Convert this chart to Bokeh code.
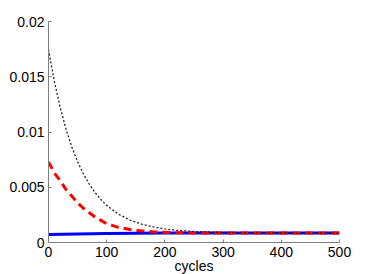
from bokeh.plotting import figure
from bokeh.models import Range1d, FixedTicker
from bokeh.embed import file_html
from bokeh.resources import INLINE

# data
cycles = [0, 10, 20, 30, 40, 50, 60, 70, 80, 90, 100, 120, 140, 160, 180, 200, 220, 250, 300, 350, 400, 450, 500]
black_dotted = [0.01745, 0.0146, 0.01224, 0.01028, 0.00865, 0.00731, 0.0062, 0.00528, 0.00452, 0.00389, 0.00336,
                0.00257, 0.00203, 0.00166, 0.00141, 0.00123, 0.00111, 0.0010, 0.00091, 0.00087, 0.00086, 0.00085, 0.00085]
red_dashed = [0.0073, 0.0063, 0.0056, 0.0048, 0.0042, 0.0036, 0.0031, 0.0027, 0.0023, 0.0020, 0.0017,
              0.00137, 0.00118, 0.00105, 0.00097, 0.00092, 0.00089, 0.00087, 0.00085, 0.00085, 0.00085, 0.00085, 0.00085]
blue_cycles = [0, 50, 100, 150, 200, 300, 400, 500]
blue_solid = [0.00072, 0.00078, 0.00082, 0.00084, 0.00085, 0.00085, 0.00085, 0.00085]

x_ticks = [0, 100, 200, 300, 400, 500]
y_ticks = [0, 0.005, 0.01, 0.015, 0.02]
y_labels = ["0", "0.005", "0.01", "0.015", "0.02"]

p = figure(frame_width=291, frame_height=221, output_backend="svg", toolbar_location=None,
           x_range=Range1d(0, 500), y_range=Range1d(0, 0.02),
           min_border_left=48, min_border_top=21, min_border_right=27, min_border_bottom=10)
p.outline_line_color = None
p.xgrid.grid_line_color = None
p.ygrid.grid_line_color = None
p.background_fill_color = "white"

p.line(blue_cycles, blue_solid, line_color="#0000ff", line_width=3)
p.line(cycles, red_dashed, line_color="#ff0000", line_width=3, line_dash="8 5")
p.line(cycles, black_dotted, line_color="#222222", line_width=1.3, line_dash="2 2")

for ax in (p.xaxis[0], p.yaxis[0]):
    ax.axis_line_color = "#7f7f7f"
    ax.major_tick_line_color = "#7f7f7f"
    ax.major_tick_in = 3
    ax.major_tick_out = 0
    ax.minor_tick_line_color = None
    ax.major_label_text_font = "Liberation Sans"
    ax.major_label_text_font_size = "14px"
    ax.major_label_text_color = "black"
    ax.major_label_standoff = 4

p.xaxis.ticker = FixedTicker(ticks=x_ticks)
p.yaxis.ticker = FixedTicker(ticks=y_ticks)
p.yaxis.major_label_overrides = {t: l for t, l in zip(y_ticks, y_labels)}
p.xaxis.axis_label = "cycles"
p.xaxis.axis_label_text_font = "Liberation Sans"
p.xaxis.axis_label_text_font_size = "14px"
p.xaxis.axis_label_text_font_style = "normal"
p.xaxis.axis_label_text_color = "black"
p.xaxis.axis_label_standoff = -2

open("out.html", "w").write(file_html(p, INLINE))
